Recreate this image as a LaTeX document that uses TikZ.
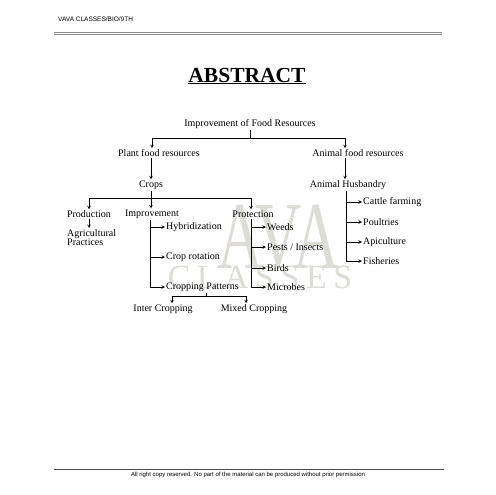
\documentclass[tikz,border=0pt]{standalone}
\usepackage{fontspec}
\setmainfont{Liberation Serif}
\setsansfont{Liberation Sans}
\usetikzlibrary{calc}
\definecolor{wmgray}{RGB}{222,220,214}

\begin{document}
\begin{tikzpicture}[x=1pt,y=-1pt,
	lbl/.style={inner sep=1pt, font=\fontsize{10}{11}\selectfont},
	arr/.style={-stealth, line width=0.6pt},
	ln/.style={line width=0.6pt}]
					\useasboundingbox (0,0) rectangle (495,495);
					\fill[white] (0,0) rectangle (495,495);

					\def\sepW{6.5pt};

					% watermark
					\begin{scope}[wmgray]
						\node[font=\fontsize{64}{64}\selectfont, yscale=1.5, transform shape] (wmA) at (279,238) {AVA};
						\node[font=\fontsize{34}{34}\selectfont] (wmB) at (260,277) {C\hspace{\sepW}L\hspace{\sepW}A\hspace{\sepW}S\hspace{\sepW}S\hspace{\sepW}E\hspace{\sepW}S};
					\end{scope}

					% page head and foot
					\begin{scope}
						\node[anchor=west, inner sep=0pt, font=\sffamily\fontsize{6.5}{7}\selectfont] (hdr) at (58,19) {VAVA CLASSES/BIO/9TH};
						\draw[black!45, line width=0.7pt] (54,32) -- (442,32);
						\draw[black!45, line width=0.7pt] (54,34.5) -- (442,34.5);
						\draw[black!70, line width=0.7pt] (54,469) -- (444,469);
						\node[inner sep=0pt, font=\sffamily\fontsize{6}{7}\selectfont] (ftr) at (248,475) {All right copy reserved. No part of the material can be produced without prior permission};
						\node[font=\bfseries\fontsize{21.5}{22}\selectfont] (title) at (247,76) {\underline{ABSTRACT}};
					\end{scope}

					% nodes
					\begin{scope}[every node/.style={lbl}]
						\node (root) at (250,124) {Improvement of Food Resources};
						\node (plant) at (159,153) {Plant food resources};
						\node (animal) at (358,153) {Animal food resources};
						\node (crops) at (151,185) {Crops};
						\node (husb) at (348,185) {Animal Husbandry};

						\node (prod) at (89,214) {Production};
						\node (impr) at (152,214) {Improvement};
						\node (prot) at (253,214) {Protection};
						\node[anchor=north west, align=left, font=\fontsize{10}{9.5}\selectfont] (agri) at (66,228) {Agricultural\\Practices};

						\node[anchor=west] (hyb) at (165,227) {Hybridization};
						\node[anchor=west] (crot) at (165,257) {Crop rotation};
						\node[anchor=west] (cpat) at (165,287) {Cropping Patterns};
						\node (inter) at (163,309) {Inter Cropping};
						\node (mixed) at (254,309) {Mixed Cropping};

						\node[anchor=west] (weeds) at (266,227) {Weeds};
						\node[anchor=west] (pests) at (266,247) {Pests / Insects};
						\node[anchor=west] (birds) at (266,268) {Birds};
						\node[anchor=west] (micro) at (266,287) {Microbes};

						\node[anchor=west] (cattle) at (362,202) {Cattle farming};
						\node[anchor=west] (poult) at (362,222) {Poultries};
						\node[anchor=west] (apic) at (362,242) {Apiculture};
						\node[anchor=west] (fish) at (362,261) {Fisheries};
					\end{scope}

					% junctions and vertical rails
					\coordinate (j1) at (250,138);
					\coordinate (j2) at (151,198);
					\coordinate (j3) at (206,296);
					\coordinate (iv) at (150,0);
					\coordinate (pv) at (251,0);
					\coordinate (hv) at (346,0);

					% connectors
					\begin{scope}
						\draw[ln] (root.south) -- (j1);
						\draw[arr] (j1) -| ([xshift=-7pt]plant.north);
						\draw[arr] (j1) -| ([xshift=-13pt]animal.north);
						\draw[arr] (crops.north |- plant.south) -- (crops.north);
						\draw[arr] ([xshift=-3pt]husb.north |- animal.south) -- ([xshift=-3pt]husb.north);

						\draw[ln] (crops.south) -- (j2);
						\draw[arr] (j2) -| (prod.north);
						\draw[arr] (j2) -| ([xshift=-2pt]prot.north);
						\draw[arr] (j2) -- (impr.north -| j2);
						\draw[arr] (prod.south) -- (agri.north -| prod.south);

						\draw[ln] (impr.south -| iv) -- (cpat.west -| iv);
						\foreach \n in {hyb,crot,cpat}
						{
							\draw[arr] (\n.west -| iv) -- (\n.west);
						}

						\draw[ln] (prot.south -| pv) -- (micro.west -| pv);
						\foreach \n in {weeds,pests,birds,micro}
						{
							\draw[arr] (\n.west -| pv) -- (\n.west);
						}

						\draw[ln] (husb.south -| hv) -- (fish.west -| hv);
						\foreach \n in {cattle,poult,apic,fish}
						{
							\draw[arr] (\n.west -| hv) -- (\n.west);
						}

						\draw[ln] (cpat.south -| j3) -- (j3);
						\draw[arr] (j3) -| ([xshift=9pt]inter.north);
						\draw[arr] (j3) -| ([xshift=-8pt]mixed.north);
					\end{scope}
				\end{tikzpicture}
\end{document}
